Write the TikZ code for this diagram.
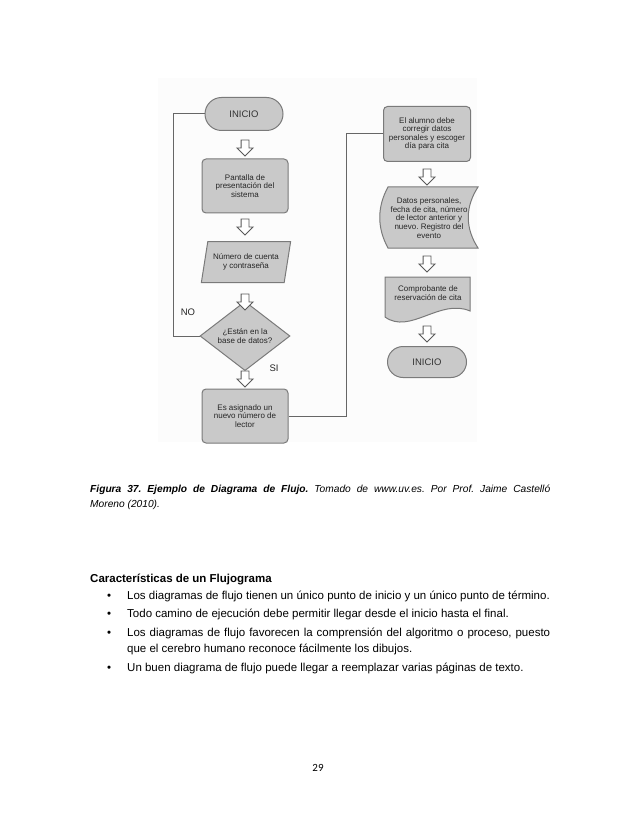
\documentclass[tikz,border=0pt]{standalone}
\usepackage{fontspec}
\setmainfont{Liberation Sans}
\newfontfamily\pagefont{Carlito}
\usetikzlibrary{shapes.geometric,shapes.misc,shapes.arrows}
\frenchspacing
\begin{document}
\frenchspacing
\begin{tikzpicture}[x=1pt,y=-1pt,
  shp/.style={fill=black!21, draw=black!52, line width=1pt},
  ftxt/.style={font=\fontsize{8}{8.6}\selectfont, align=center, text=black!85, inner sep=0pt},
  bigtxt/.style={font=\fontsize{9.5}{10}\selectfont, text=black!80},
  conn/.style={draw=black!60, line width=1pt},
  barrow/.style={single arrow, draw=black!65, fill=white, line width=0.9pt, single arrow head extend=4pt, minimum height=16pt, minimum width=15pt, inner sep=3.5pt, rotate=-90, single arrow head indent=0pt},
  lbl/.style={font=\fontsize{9.5}{10}\selectfont, text=black!85, inner sep=0pt},
  body/.style={font=\fontsize{11.5}{13}\selectfont, anchor=base west, inner sep=0pt},
  capt/.style={font=\fontsize{10.2}{12}\selectfont, anchor=base west, inner sep=0pt},
]
\useasboundingbox (0,0) rectangle (638,826);
\fill[white] (0,0) rectangle (638,826);
\fill[black!1] (158,78) rectangle (477,442);

% left column
\node[shp, rounded rectangle, minimum width=78pt, minimum height=33pt, ftxt, bigtxt] (ini1) at (244,114) {INICIO};
\node[shp, rounded corners=4pt, minimum width=86pt, minimum height=54pt, ftxt] (pant) at (245,186) {Pantalla de\\presentación del\\sistema};
\node[shp, trapezium, trapezium left angle=71, trapezium right angle=109, trapezium stretches=true, minimum width=90pt, minimum height=41pt, ftxt] (num) at (246,262) {Número de cuenta\\y contraseña};
\node[shp, diamond, minimum width=90pt, minimum height=57pt, ftxt] (dec) at (245,336) {¿Están en la\\base de datos?};
\node[shp, rounded corners=4pt, minimum width=86pt, minimum height=54pt, ftxt] (asig) at (245,416) {Es asignado un\\nuevo número de\\lector};

% right column
\node[shp, rounded corners=4pt, minimum width=87pt, minimum height=55pt, ftxt] (alum) at (427,134) {El alumno debe\\corregir datos\\personales y escoger\\día para cita};
\draw[shp] (388,187) -- (478,187) .. controls (465,207) and (465,228) .. (478,248) -- (388,248) .. controls (377,228) and (377,207) .. (388,187) -- cycle;
\node[ftxt] (datos) at (429,218) {Datos personales,\\fecha de cita, número\\de lector anterior y\\nuevo. Registro del\\evento};
\draw[shp] (385,277) -- (470,277) -- (470,311) .. controls (440,298) and (410,335) .. (385,317) -- cycle;
\node[ftxt] (comp) at (428,293) {Comprobante de\\reservación de cita};
\node[shp, rounded rectangle, minimum width=79pt, minimum height=31pt, ftxt, bigtxt] (ini2) at (427,362) {INICIO};

% block arrows
\node[barrow] (a1) at (245,146) {};
\node[barrow] (a2) at (245,225) {};
\node[barrow] (a3) at (245,300) {};
\node[barrow] (a4) at (245,377) {};
\node[barrow] (a5) at (427,175) {};
\node[barrow] (a6) at (427,262) {};
\node[barrow] (a7) at (427,332) {};

% connectors
\coordinate (noc) at (173,336);
\draw[conn] (dec.west) -- (noc) |- (ini1.west);
\coordinate (sic) at (346,416);
\draw[conn] (asig.east) -- (sic) |- (alum.west);
\node[lbl] (no) at (188,312) {NO};
\node[lbl] (si) at (274,368) {SI};

% caption
\node[capt] (cap1) at (90,492) {\makebox[460pt][s]{\textbf{\textit{Figura 37. Ejemplo de Diagrama de Flujo.}} \textit{Tomado de www.uv.es. Por Prof. Jaime Castelló}}};
\node[capt] (cap2) at (90,507) {\textit{Moreno (2010).}};

% text
\node[body, font=\bfseries\fontsize{11.5}{13}\selectfont] (head) at (90,582) {Características de un Flujograma};
\node[body] (d1) at (107,599) {•};
\node[body] (t1) at (127,599) {Los diagramas de flujo tienen un único punto de inicio y un único punto de término.};
\node[body] (d2) at (107,617) {•};
\node[body] (t2) at (127,617) {Todo camino de ejecución debe permitir llegar desde el inicio hasta el final.};
\node[body] (d3) at (107,636) {•};
\node[body] (t3) at (127,636) {\makebox[423pt][s]{Los diagramas de flujo favorecen la comprensión del algoritmo o proceso, puesto}};
\node[body] (t3b) at (127,652) {que el cerebro humano reconoce fácilmente los dibujos.};
\node[body] (d4) at (107,671) {•};
\node[body] (t4) at (127,671) {Un buen diagrama de flujo puede llegar a reemplazar varias páginas de texto.};

\node[anchor=base, inner sep=0pt, font=\pagefont\fontsize{11}{12}\selectfont] (pg) at (318,771) {29};
\end{tikzpicture}
\end{document}
